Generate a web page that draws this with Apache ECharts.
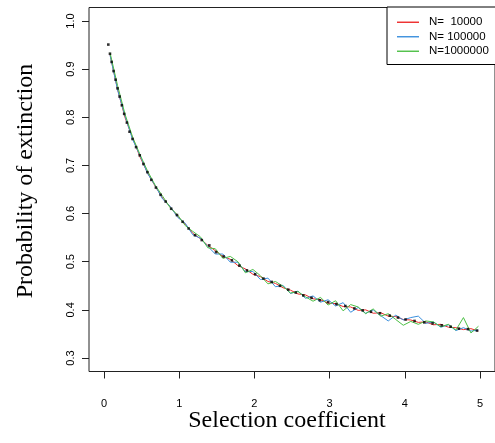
<!DOCTYPE html>
<html>
<head>
<meta charset="utf-8">
<script src="https://cdn.jsdelivr.net/npm/echarts@6/dist/echarts.min.js"></script>
<style>html,body{margin:0;padding:0;background:#fff}#c{width:495px;height:443px}</style>
</head>
<body>
<div id="c"></div>
<script>
// Theoretical points (black dots)
var theoryS = [0.057,0.079,0.101,0.127,0.154,0.180,0.207,0.237,0.268,0.304,0.339,0.379,0.426,0.475,0.524,0.577,0.629,0.690,0.752,0.82,0.893,0.97,1.045,1.125,1.21,1.30,1.40,1.49,1.59,1.70,1.80,1.90,2.01,2.12,2.23,2.34,2.45,2.55,2.65,2.76,2.87,2.98,3.09,3.21,3.33,3.44,3.55,3.67,3.80,3.91,4.01,4.13,4.26,4.37,4.49,4.61,4.72,4.84,4.96];
var theoryP = [0.951,0.932,0.915,0.896,0.878,0.860,0.843,0.825,0.807,0.789,0.770,0.755,0.738,0.721,0.703,0.686,0.670,0.654,0.639,0.625,0.610,0.597,0.583,0.569,0.555,0.545,0.534,0.520,0.511,0.503,0.492,0.482,0.474,0.465,0.458,0.450,0.442,0.436,0.430,0.425,0.420,0.416,0.412,0.408,0.403,0.399,0.396,0.393,0.388,0.384,0.380,0.377,0.374,0.372,0.368,0.365,0.361,0.360,0.357];

// Simulation grid (selection coefficient)
var simS = [0.08,0.18,0.28,0.38,0.48,0.58,0.68,0.78,0.88,0.98,1.08,1.18,1.28,1.38,1.48,1.58,1.68,1.78,1.88,1.98,2.08,2.18,2.28,2.38,2.48,2.58,2.68,2.78,2.88,2.98,3.08,3.18,3.28,3.38,3.48,3.58,3.68,3.78,3.88,3.98,4.08,4.18,4.28,4.38,4.48,4.58,4.68,4.78,4.88,4.98];
var pN1e4 = [0.930,0.858,0.799,0.757,0.717,0.684,0.657,0.632,0.614,0.594,0.578,0.559,0.548,0.534,0.523,0.511,0.505,0.492,0.485,0.474,0.469,0.459,0.455,0.446,0.441,0.433,0.431,0.423,0.421,0.414,0.413,0.407,0.406,0.399,0.400,0.393,0.394,0.387,0.386,0.380,0.379,0.374,0.375,0.369,0.370,0.364,0.363,0.359,0.361,0.356];
var pN1e5 = [0.929,0.857,0.802,0.754,0.720,0.683,0.658,0.630,0.615,0.592,0.580,0.556,0.549,0.532,0.516,0.516,0.499,0.499,0.479,0.480,0.463,0.466,0.448,0.451,0.434,0.439,0.424,0.429,0.416,0.421,0.408,0.415,0.395,0.405,0.393,0.400,0.388,0.377,0.389,0.379,0.384,0.387,0.372,0.375,0.364,0.369,0.357,0.363,0.356,0.358];
var pN1e6 = [0.934,0.866,0.806,0.759,0.722,0.688,0.659,0.636,0.612,0.597,0.575,0.563,0.552,0.529,0.527,0.507,0.511,0.500,0.477,0.484,0.471,0.454,0.459,0.449,0.435,0.438,0.427,0.418,0.426,0.410,0.419,0.398,0.411,0.406,0.392,0.402,0.387,0.392,0.380,0.368,0.376,0.370,0.377,0.375,0.365,0.370,0.358,0.384,0.352,0.366];

var xTicks = [0,1,2,3,4,5];
var yTicks = [0.3,0.4,0.5,0.6,0.7,0.8,0.9,1.0];
var seriesNames = ['N=  10000','N= 100000','N=1000000'];
var seriesColors = ['#ee2a2a','#3a8fdd','#4cbf45'];

function zip(a,b){return a.map(function(v,i){return [v,b[i]];});}

var chart = echarts.init(document.getElementById('c'), null, {renderer:'canvas'});
var sans = '"Liberation Sans", Arial, Helvetica, sans-serif';
var serif = '"Liberation Serif", "Times New Roman", serif';
var simData = [pN1e4,pN1e5,pN1e6];
var series = simData.map(function(d,i){
  return {name:seriesNames[i],type:'line',data:zip(simS,d),showSymbol:false,symbol:'none',
    lineStyle:{color:seriesColors[i],width:1},itemStyle:{color:seriesColors[i]},z:2,animation:false};
});
series.push({name:'theory',type:'scatter',data:zip(theoryS,theoryP),symbol:'rect',symbolSize:2.6,
  itemStyle:{color:'#000'},z:5,animation:false});

chart.setOption({
  animation:false,
  grid:{left:89,top:7.5,width:408,height:364,show:true,borderColor:'#222',borderWidth:1,backgroundColor:'transparent'},
  xAxis:{type:'value',min:-0.2,max:5.2,
    axisLine:{show:false,onZero:false},
    axisTick:{show:true,length:7,lineStyle:{color:'#222'},customValues:xTicks},
    axisLabel:{customValues:xTicks,margin:27,fontFamily:sans,fontSize:11,color:'#000',
      formatter:function(v){return String(Math.round(v));}},
    splitLine:{show:false}},
  yAxis:{type:'value',min:0.272,max:1.028,
    axisLine:{show:false,onZero:false},
    axisTick:{show:true,length:7,lineStyle:{color:'#222'},customValues:yTicks},
    axisLabel:{customValues:yTicks,rotate:90,margin:13,fontFamily:sans,fontSize:11,color:'#000',
      formatter:function(v){return v.toFixed(1);}},
    splitLine:{show:false}},
  legend:{data:seriesNames,orient:'vertical',left:387,top:7,
    padding:[9,60,7,10],itemGap:2,itemWidth:22,itemHeight:1.4,icon:'rect',
    borderColor:'#000',borderWidth:1,backgroundColor:'#fff',
    textStyle:{fontFamily:sans,fontSize:11.5,color:'#000',lineHeight:12.5,padding:[0,0,0,5]}},
  graphic:[
    {type:'text',style:{text:'Selection coefficient',font:'24px '+serif,fill:'#000',
      textAlign:'center',textVerticalAlign:'middle'},x:287,y:421},
    {type:'text',style:{text:'Probability of extinction',font:'24px '+serif,fill:'#000',
      textAlign:'center',textVerticalAlign:'middle'},x:26,y:181,rotation:Math.PI/2}
  ],
  series:series
});
</script>
</body>
</html>
